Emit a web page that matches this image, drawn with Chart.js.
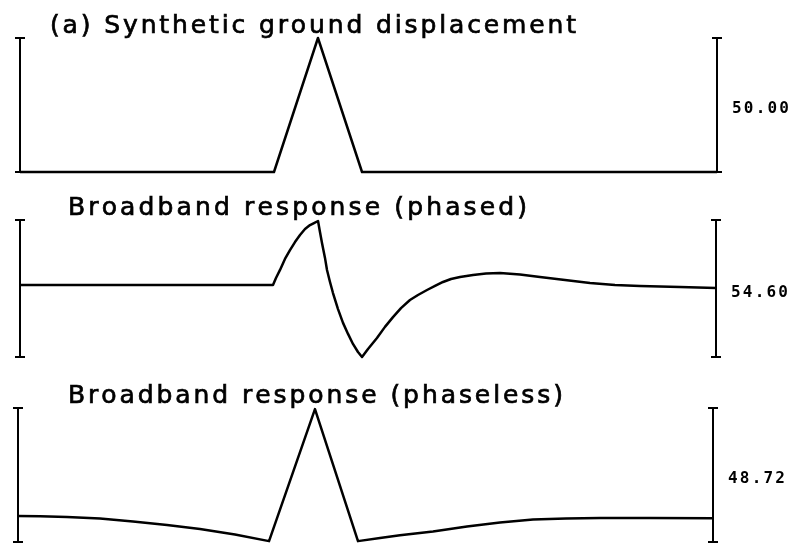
<!DOCTYPE html>
<html>
<head>
<meta charset="utf-8">
<script src="https://cdn.jsdelivr.net/npm/chart.js@4.4.1/dist/chart.umd.min.js"></script>
<style>
  html, body { margin: 0; padding: 0; background: #fff; }
  #wrap { position: relative; width: 792px; height: 543px; overflow: hidden; }
  #wrap canvas { position: absolute; left: 0; top: 0; }
</style>
</head>
<body>
<div id="wrap">
  <canvas id="ground" width="792" height="543"></canvas>
  <canvas id="phased" width="792" height="543"></canvas>
  <canvas id="phaseless" width="792" height="543"></canvas>
</div>
<script>
// traces, time in % of the window, amplitude in plot units
const groundT = [0, 36.44, 42.75, 49.07, 100]
const groundY = [0, 0, 50, 0, 0]

const phasedT = [0, 36.35, 36.78, 37.36, 38.07, 38.79, 39.51, 40.23, 40.95, 41.67, 42.24, 42.82,
    43.10, 43.39, 43.82, 44.11, 44.54, 44.97, 45.69, 46.41, 47.13, 47.84, 48.56, 49.14,
    50.0, 51.29, 52.44, 53.59, 54.74, 56.03, 57.18, 58.48, 59.63, 60.78, 61.93, 63.22, 65.09, 66.95,
    68.97, 71.84, 74.71, 78.30, 81.90, 85.49, 89.08, 94.83, 100]
const phasedY = [0, 0, 2.8, 6.0, 10.4, 13.9, 17.1, 19.9, 22.3, 23.9, 24.7, 25.5,
    21.1, 16.7, 10.8, 6.0, 1.2, -3.2, -9.6, -15.1, -19.5, -23.5, -26.7, -28.7,
    -25.5, -21.1, -16.7, -12.8, -9.2, -6.0, -4.0, -2.0, -0.4, 1.2, 2.4, 3.2, 4.0, 4.6,
    4.8, 4.2, 3.2, 2.0, 0.8, 0, -0.4, -0.8, -1.2]

const phaselessT = [0, 3.17, 7.05, 11.8, 16.55, 21.44, 26.19, 31.22, 36.12, 42.73,
    48.92, 52.09, 54.96, 59.71, 64.6, 69.35, 74.1, 78.85, 83.74, 90.94, 100]
const phaselessY = [0.7, 0.6, 0.4, -0.2, -1.3, -2.5, -4.0, -6.0, -8.4, 39.6,
    -8.4, -7.3, -6.3, -4.9, -3.1, -1.6, -0.5, -0.2, 0, 0, -0.1]

const titles = ['(a) Synthetic ground displacement', 'Broadband response (phased)', 'Broadband response (phaseless)']
const scaleLabels = ['50.00', '54.60', '48.72']
const scaleLow = [0, -28.7, -8.72]
const scaleHigh = [50, 25.9, 40]

// where each panel sits on the page
const panels = [
    { id: 'ground', t: groundT, y: groundY, left: 20, right: 717, top: 38, bottom: 172, titleX: 50, titleW: 526 },
    { id: 'phased', t: phasedT, y: phasedY, left: 20, right: 716, top: 220, bottom: 357, titleX: 68, titleW: 459 },
    { id: 'phaseless', t: phaselessT, y: phaselessY, left: 18, right: 713, top: 408, bottom: 542, titleX: 68, titleW: 495 }
]

// draws text stretched to a given width by spreading the letters
function spacedText(ctx, text, x, y, width, weight) {
    const chars = Array.from(text)
    const widths = chars.map(c => ctx.measureText(c).width)
    const total = widths.reduce((a, b) => a + b, 0)
    const gap = (width - total) / (chars.length - 1)
    let cx = x
    chars.forEach((c, k) => {
        ctx.fillText(c, cx, y)
        if (weight) ctx.strokeText(c, cx, y)
        cx += widths[k] + gap
    })
}

// scale bars on both sides, the title over the trace and the amplitude label
const decorations = {
    id: 'decorations',
    afterDraw(chart, args, opts) {
        const ctx = chart.ctx
        const area = chart.chartArea
        const yTop = chart.scales.y.getPixelForValue(opts.high)
        const yBot = chart.scales.y.getPixelForValue(opts.low)
        ctx.save()
        ctx.strokeStyle = '#000'
        ctx.lineWidth = 2
        ;[area.left, area.right].forEach(x => {
            ctx.beginPath()
            ctx.moveTo(x, yTop)
            ctx.lineTo(x, yBot)
            ctx.moveTo(x - 5, yTop)
            ctx.lineTo(x + 5, yTop)
            ctx.moveTo(x - 5, yBot)
            ctx.lineTo(x + 5, yBot)
            ctx.stroke()
        })
        ctx.fillStyle = '#000'
        ctx.textBaseline = 'alphabetic'
        ctx.textAlign = 'left'
        ctx.font = '25px "DejaVu Sans"'
        ctx.lineWidth = 0.7
        spacedText(ctx, opts.title, opts.titleX, yTop - 5, opts.titleW, true)
        ctx.font = 'bold 16px "DejaVu Sans Mono"'
        ctx.textBaseline = 'middle'
        spacedText(ctx, opts.label, area.right + 15, (yTop + yBot) / 2 + 4, 57, false)
        ctx.restore()
    }
}

panels.forEach((p, i) => {
    new Chart(document.getElementById(p.id), {
        type: 'line',
        data: {
            datasets: [{
                data: p.t.map((t, k) => ({ x: t, y: p.y[k] })),
                borderColor: '#000',
                borderWidth: 2.5,
                borderJoinStyle: 'round',
                pointRadius: 0,
                tension: 0,
                clip: false
            }]
        },
        options: {
            responsive: false,
            animation: false,
            layout: { padding: { left: p.left, right: 792 - p.right, top: p.top, bottom: 543 - p.bottom } },
            scales: {
                x: { type: 'linear', min: 0, max: 100, display: false },
                y: { min: scaleLow[i], max: scaleHigh[i], display: false }
            },
            plugins: {
                legend: { display: false },
                tooltip: { enabled: false },
                decorations: {
                    title: titles[i],
                    label: scaleLabels[i],
                    low: scaleLow[i],
                    high: scaleHigh[i],
                    titleX: p.titleX,
                    titleW: p.titleW
                }
            }
        },
        plugins: [decorations]
    })
})
</script>
</body>
</html>
